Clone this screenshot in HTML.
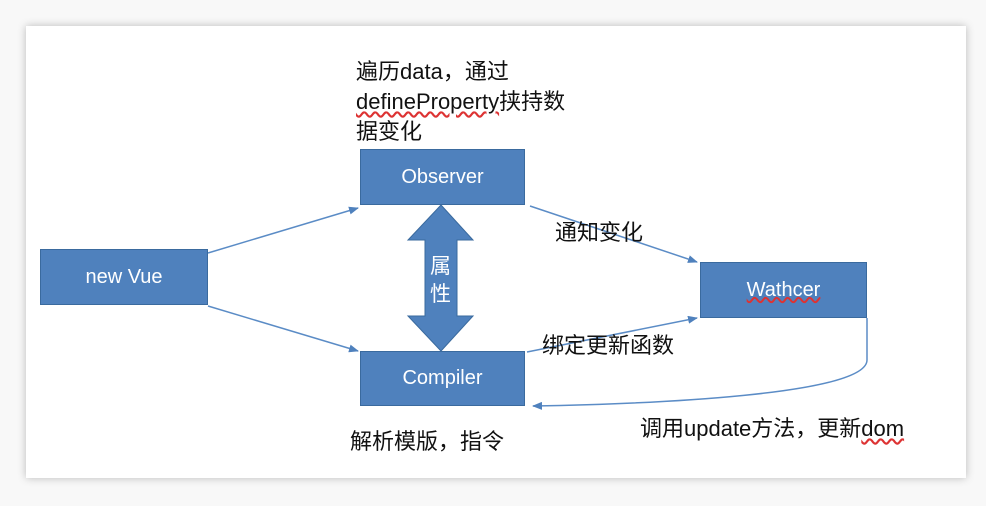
<!DOCTYPE html>
<html><head><meta charset="utf-8"><style>
body{margin:0;width:986px;height:506px;background:#f8f8f8;position:relative;overflow:hidden;font-family:"Liberation Sans","Noto Sans CJK SC",sans-serif}
.card{position:absolute;left:26px;top:26px;width:940px;height:452px;background:#fff;box-shadow:0 0 8px rgba(0,0,0,.25)}
.box{position:absolute;background:#4f81bd;border:1px solid #3a6a9e;color:#fff;font-size:20px;display:flex;align-items:center;justify-content:center;box-sizing:border-box}
.t{position:absolute;font-size:22px;color:#111;line-height:30px;white-space:nowrap}
</style></head><body>
<div class="card"></div>
<svg width="986" height="506" style="position:absolute;left:0;top:0">
<defs><marker id="a" markerWidth="10" markerHeight="8" refX="9" refY="4" orient="auto" markerUnits="userSpaceOnUse"><path d="M0,0L10,4L0,8z" fill="#4f81bd"/></marker></defs>
<g stroke="#5b8cc6" stroke-width="1.5" fill="none">
<line x1="208" y1="253" x2="358" y2="208" marker-end="url(#a)"/>
<line x1="208" y1="306" x2="358" y2="351" marker-end="url(#a)"/>
<line x1="530" y1="206" x2="697" y2="262" marker-end="url(#a)"/>
<line x1="527" y1="352" x2="697" y2="318" marker-end="url(#a)"/>
<path d="M867,318 L867,360 C867,395 650,404 533,406" marker-end="url(#a)"/>
</g>
<path d="M441,205 L473,240 L457,240 L457,316 L473,316 L441,351 L408,316 L425,316 L425,240 L408,240 Z" fill="#4f81bd" stroke="#3a6a9e"/>
<text x="430" y="273" font-size="21" fill="#fff" font-family="Noto Sans CJK SC,sans-serif">属</text>
<text x="430" y="301" font-size="21" fill="#fff" font-family="Noto Sans CJK SC,sans-serif">性</text>
</svg>
<div class="box" style="left:40px;top:249px;width:168px;height:56px">new Vue</div>
<div class="box" style="left:360px;top:149px;width:165px;height:56px">Observer</div>
<div class="box" style="left:360px;top:351px;width:165px;height:55px">Compiler</div>
<div class="box" style="left:700px;top:262px;width:167px;height:56px"><span style="text-decoration:underline wavy #d33">Wathcer</span></div>
<div class="t" style="left:356px;top:57px">遍历data，通过<br><span style="text-decoration:underline wavy #d33">defineProperty</span>挟持数<br>据变化</div>
<div class="t" style="left:555px;top:218px">通知变化</div>
<div class="t" style="left:542px;top:331px">绑定更新函数</div>
<div class="t" style="left:350px;top:427px">解析模版，指令</div>
<div class="t" style="left:640px;top:414px">调用update方法，更新<span style="text-decoration:underline wavy #d33">dom</span></div>
</body></html>
